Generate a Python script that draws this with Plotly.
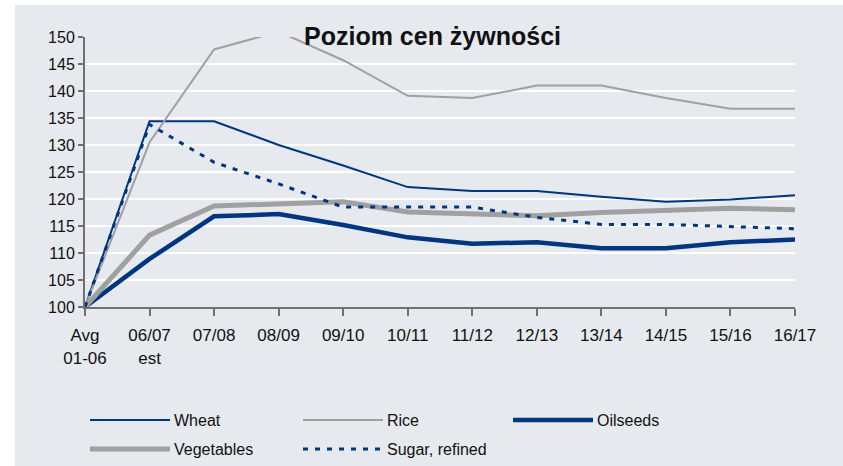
import plotly.graph_objects as go

categories = ["Avg<br>01-06", "06/07<br>est", "07/08", "08/09", "09/10", "10/11",
              "11/12", "12/13", "13/14", "14/15", "15/16", "16/17"]

wheat = [100, 134.4, 134.4, 130.0, 126.2, 122.2, 121.5, 121.5, 120.4, 119.5, 119.9, 120.7]
rice = [100, 130.5, 147.7, 151.0, 145.7, 139.1, 138.7, 141.0, 141.0, 138.7, 136.7, 136.7]
oilseeds = [100, 108.9, 116.8, 117.2, 115.2, 112.9, 111.7, 112.0, 110.9, 110.9, 112.0, 112.5]
vegetables = [100, 113.3, 118.7, 119.1, 119.5, 117.6, 117.2, 116.9, 117.5, 118.0, 118.3, 118.0]
sugar = [100, 133.8, 126.8, 122.8, 118.5, 118.5, 118.5, 116.6, 115.3, 115.3, 114.9, 114.5]

y_ticks = [100, 105, 110, 115, 120, 125, 130, 135, 140, 145, 150]

NAVY = "#003580"
GRAY = "#A0A0A0"
BG = "#E6E9EE"

series = [
    ("Wheat", wheat, NAVY, 2, "solid"),
    ("Rice", rice, GRAY, 2, "solid"),
    ("Oilseeds", oilseeds, NAVY, 4.5, "solid"),
    ("Vegetables", vegetables, GRAY, 5, "solid"),
    ("Sugar, refined", sugar, NAVY, 3, "5px,7px"),
]

fig = go.Figure()
x_idx = list(range(len(categories)))
for name, vals, color, width, dash in series:
    fig.add_trace(go.Scatter(x=x_idx, y=vals, mode="lines", name=name,
                             line=dict(color=color, width=width, dash=dash),
                             showlegend=False))

# plot area geometry (pixels) for legend placement
L, R, T, B = 85, 48, 37, 159
W, H = 843, 466
pw, ph = W - L - R, H - T - B


def px_x(p):
    return (p - L) / pw


def px_y(p):
    return (H - B - p) / ph


shapes = [dict(type="rect", xref="paper", yref="paper", layer="below",
               x0=px_x(15), x1=px_x(843), y0=px_y(466), y1=px_y(5),
               fillcolor=BG, line=dict(width=0))]
annotations = []

# legend, laid out in a grid: columns at given pixel x, rows at pixel y
cols = [90, 303, 513]
rows = [420, 449]
for i, (name, vals, color, width, dash) in enumerate(series):
    c = cols[i % 3]
    r = rows[i // 3]
    shapes.append(dict(type="line", xref="paper", yref="paper",
                       x0=px_x(c), x1=px_x(c + 80), y0=px_y(r), y1=px_y(r),
                       line=dict(color=color, width=width, dash=dash)))
    annotations.append(dict(text=name, xref="paper", yref="paper",
                            x=px_x(c + 82), y=px_y(r), xanchor="left", yanchor="middle",
                            showarrow=False, font=dict(size=16, color="#111")))

annotations.append(dict(text="<b>Poziom cen żywności</b>", xref="paper", yref="paper",
                        x=px_x(432), y=px_y(36), xanchor="center", yanchor="middle",
                        showarrow=False, font=dict(size=25, color="#111")))

fig.update_layout(
    width=W, height=H,
    margin=dict(l=L, r=R, t=T, b=B),
    paper_bgcolor="white",
    plot_bgcolor=BG,
    font=dict(family="Liberation Sans, Arial, sans-serif", size=16, color="#111"),
    shapes=shapes,
    annotations=annotations,
    hovermode=False,
    xaxis=dict(range=[0, len(categories) - 1], tickmode="array", tickvals=x_idx,
               ticktext=categories, showgrid=False, zeroline=False,
               showline=True, linecolor="#707070", linewidth=2,
               ticks="outside", ticklen=7, tickcolor="#707070", tickwidth=1.5,
               ticklabelstandoff=5, tickfont=dict(size=17)),
    yaxis=dict(range=[100, 150], tickmode="array", tickvals=y_ticks,
               showgrid=True, gridcolor="white", gridwidth=2, zeroline=False,
               showline=True, linecolor="#707070", linewidth=2,
               ticks="outside", ticklen=5, tickcolor="#707070", tickwidth=1.5,
               tickfont=dict(size=16)),
)

fig.write_html("out.html", config={"displayModeBar": False},
               post_script="document.body.style.margin='0';document.body.style.overflow='hidden';")
